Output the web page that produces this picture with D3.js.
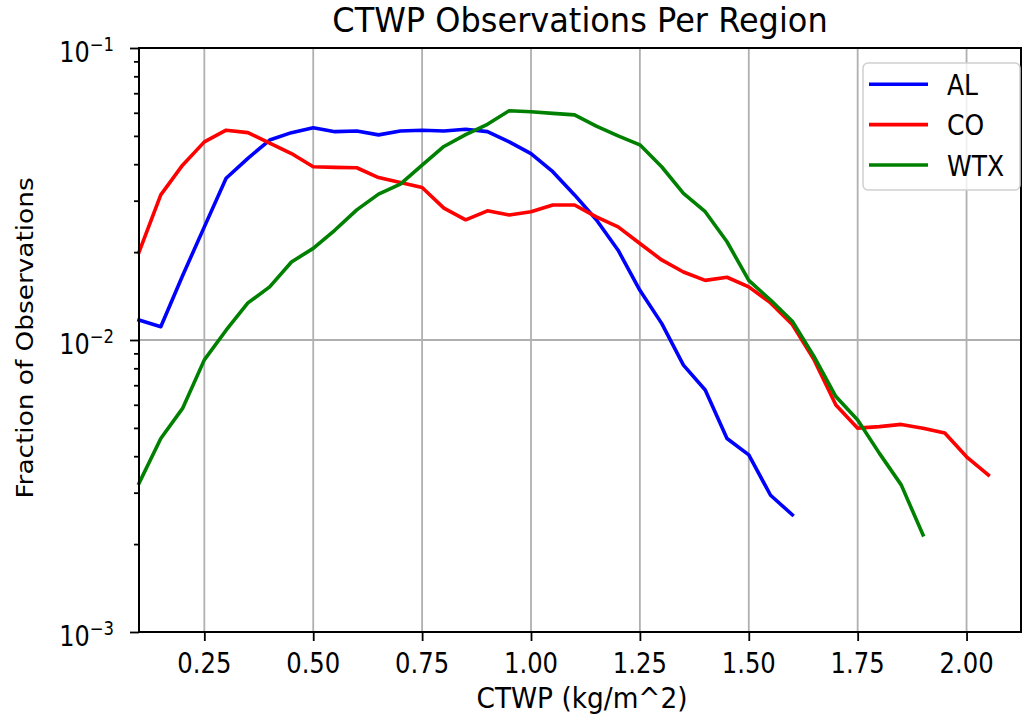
<!DOCTYPE html>
<html>
<head>
<meta charset="utf-8">
<script src="https://cdn.jsdelivr.net/npm/d3@7"></script>
<style>
  body { margin: 0; background: #fff; }
  text { font-family: "DejaVu Sans", sans-serif; fill: #000; }
</style>
</head>
<body>
<div id="container"></div>
<script>
/**
 * CONSTANTS
 * */
const width = 1023,
  height = 717,
  margin = { top: 48, bottom: 85, left: 139, right: 2 };

// bin centres (kg/m^2) and the fraction of observations in each bin
const xAL = [0.10, 0.15, 0.20, 0.25, 0.30, 0.35, 0.40, 0.45, 0.50, 0.55, 0.60, 0.65, 0.70, 0.75, 0.80,
  0.85, 0.90, 0.95, 1.00, 1.05, 1.10, 1.15, 1.20, 1.25, 1.30, 1.35, 1.40, 1.45, 1.50, 1.55, 1.60];
const AL = [0.0117, 0.0111, 0.0166, 0.0244, 0.0358, 0.0419, 0.0484, 0.0513, 0.0533, 0.0517, 0.052, 0.0504,
  0.052, 0.0523, 0.052, 0.0527, 0.0517, 0.0477, 0.0435, 0.0377, 0.0314, 0.0258, 0.0203, 0.0148, 0.0114,
  0.0082, 0.00674, 0.0046, 0.00404, 0.00294, 0.00252];

const xCO = [0.10, 0.15, 0.20, 0.25, 0.30, 0.35, 0.40, 0.45, 0.50, 0.55, 0.60, 0.65, 0.70, 0.75, 0.80,
  0.85, 0.90, 0.95, 1.00, 1.05, 1.10, 1.15, 1.20, 1.25, 1.30, 1.35, 1.40, 1.45, 1.50, 1.55, 1.60,
  1.65, 1.70, 1.75, 1.80, 1.85, 1.90, 1.95, 2.00, 2.05];
const CO = [0.020, 0.0314, 0.0397, 0.0477, 0.0523, 0.0513, 0.0472, 0.0435, 0.0392, 0.039, 0.0389, 0.036,
  0.0346, 0.0333, 0.0283, 0.0258, 0.0277, 0.0268, 0.0275, 0.029, 0.029, 0.0264, 0.0244, 0.0214, 0.0188,
  0.0171, 0.016, 0.0164, 0.0152, 0.0134, 0.0113, 0.00855, 0.00599, 0.00499, 0.00505, 0.00514, 0.00499,
  0.0048, 0.00398, 0.00345];

const xWTX = [0.10, 0.15, 0.20, 0.25, 0.30, 0.35, 0.40, 0.45, 0.50, 0.55, 0.60, 0.65, 0.70, 0.75, 0.80,
  0.85, 0.90, 0.95, 1.00, 1.05, 1.10, 1.15, 1.20, 1.25, 1.30, 1.35, 1.40, 1.45, 1.50, 1.55, 1.60,
  1.65, 1.70, 1.75, 1.80, 1.85, 1.90];
const WTX = [0.00323, 0.0046, 0.00583, 0.00855, 0.0108, 0.0134, 0.0152, 0.0185, 0.0206, 0.0238, 0.0279,
  0.0316, 0.0342, 0.0397, 0.046, 0.0505, 0.0548, 0.061, 0.0605, 0.0597, 0.059, 0.054, 0.05, 0.0466,
  0.0392, 0.0318, 0.0275, 0.0217, 0.016, 0.0137, 0.0116, 0.00877, 0.0064, 0.00532, 0.00409, 0.00319,
  0.00215];

const seriesNames = ["AL", "CO", "WTX"];
const seriesColors = ["#0000ff", "#ff0000", "#008000"];

const xTicks = [0.25, 0.50, 0.75, 1.00, 1.25, 1.50, 1.75, 2.00];
const yMajor = [1e-1, 1e-2, 1e-3];
const yMajorExp = ["1", "2", "3"];
const xDomain = [0.1, 2.125];
const yDomain = [1e-3, 1e-1];

const series = [
  { name: seriesNames[0], color: seriesColors[0], values: xAL.map((x, i) => [x, AL[i]]) },
  { name: seriesNames[1], color: seriesColors[1], values: xCO.map((x, i) => [x, CO[i]]) },
  { name: seriesNames[2], color: seriesColors[2], values: xWTX.map((x, i) => [x, WTX[i]]) },
];

/**
 * SCALES
 * */
const x = d3.scaleLinear().domain(xDomain).range([margin.left, width - margin.right]);
const y = d3.scaleLog().domain(yDomain).range([height - margin.bottom, margin.top]);

const svg = d3.select("#container")
  .append("svg")
  .attr("width", width)
  .attr("height", height);

// the picture was stretched a bit vertically, so text gets a y-scale
function label(px, py, str, size, anchor, sx, sy, rot) {
  return svg.append("text")
    .attr("transform", `translate(${px},${py}) rotate(${rot || 0}) scale(${sx},${sy})`)
    .attr("text-anchor", anchor)
    .attr("font-size", size)
    .text(str);
}

// grid
svg.append("g")
  .selectAll("line")
  .data(xTicks)
  .join("line")
  .attr("x1", d => x(d)).attr("x2", d => x(d))
  .attr("y1", y.range()[0]).attr("y2", y.range()[1])
  .attr("stroke", "#b0b0b0")
  .attr("stroke-width", 1.8);

svg.append("g")
  .selectAll("line")
  .data(yMajor)
  .join("line")
  .attr("x1", x.range()[0]).attr("x2", x.range()[1])
  .attr("y1", d => y(d)).attr("y2", d => y(d))
  .attr("stroke", "#b0b0b0")
  .attr("stroke-width", 1.8);

// lines
const line = d3.line().x(d => x(d[0])).y(d => y(d[1]));

svg.append("g")
  .selectAll("path")
  .data(series)
  .join("path")
  .attr("d", d => line(d.values))
  .attr("fill", "none")
  .attr("stroke", d => d.color)
  .attr("stroke-width", 3.6)
  .attr("stroke-linejoin", "round")
  .attr("stroke-linecap", "square");

// x axis
const xAxis = svg.append("g")
  .attr("transform", `translate(0,${y.range()[0]})`)
  .call(d3.axisBottom(x).tickValues(xTicks).tickSize(9).tickFormat(""));

// y axis, major and minor ticks
const yMinor = [];
[1e-3, 1e-2].forEach(b => d3.range(2, 10).forEach(k => yMinor.push(b * k)));

const yAxisMinor = svg.append("g")
  .attr("transform", `translate(${x.range()[0]},0)`)
  .call(d3.axisLeft(y).tickValues(yMinor).tickSize(5).tickFormat(""));

const yAxis = svg.append("g")
  .attr("transform", `translate(${x.range()[0]},0)`)
  .call(d3.axisLeft(y).tickValues(yMajor).tickSize(9).tickFormat(""));

[xAxis, yAxis, yAxisMinor].forEach(g => {
  g.select(".domain").remove();
  g.selectAll(".tick line").attr("stroke", "#000").attr("stroke-width", 1.8);
});

// frame
svg.append("rect")
  .attr("x", x.range()[0])
  .attr("y", y.range()[1])
  .attr("width", x.range()[1] - x.range()[0])
  .attr("height", y.range()[0] - y.range()[1])
  .attr("fill", "none")
  .attr("stroke", "#000")
  .attr("stroke-width", 2);

// tick labels
xTicks.forEach(t => label(x(t), 673, d3.format(".2f")(t), 24.3, "middle", 1, 1.17));

yMajor.forEach((t, i) => {
  const tx = svg.append("text")
    .attr("transform", `translate(114,${y(t) + 14}) scale(1,1.15)`)
    .attr("text-anchor", "end")
    .attr("font-size", 24);
  tx.append("tspan").text("10");
  tx.append("tspan").attr("dy", -9.5).attr("font-size", 16.5).text("\u2212" + yMajorExp[i]);
});

// titles
label((x.range()[0] + x.range()[1]) / 2, 32, "CTWP Observations Per Region", 32, "middle", 1, 1.08);
label(582, 708, "CTWP (kg/m^2)", 26.4, "middle", 1, 1.09);
label(33, 338, "Fraction of Observations", 22.7, "middle", 1.16, 1, -90);

// legend
const legend = svg.append("g");
legend.append("rect")
  .attr("x", 863).attr("y", 63)
  .attr("width", 157).attr("height", 127)
  .attr("rx", 5)
  .attr("fill", "#fff").attr("fill-opacity", 0.8)
  .attr("stroke", "#d0d0d0").attr("stroke-width", 1.5);

const rowY = d3.scalePoint().domain(seriesNames).range([84.3, 165]);
series.forEach(s => {
  legend.append("line")
    .attr("x1", 869).attr("x2", 928)
    .attr("y1", rowY(s.name)).attr("y2", rowY(s.name))
    .attr("stroke", s.color).attr("stroke-width", 3.6);
  label(947, rowY(s.name) + 10.7, s.name, 25, "start", 1, 1.1);
});
</script>
</body>
</html>
